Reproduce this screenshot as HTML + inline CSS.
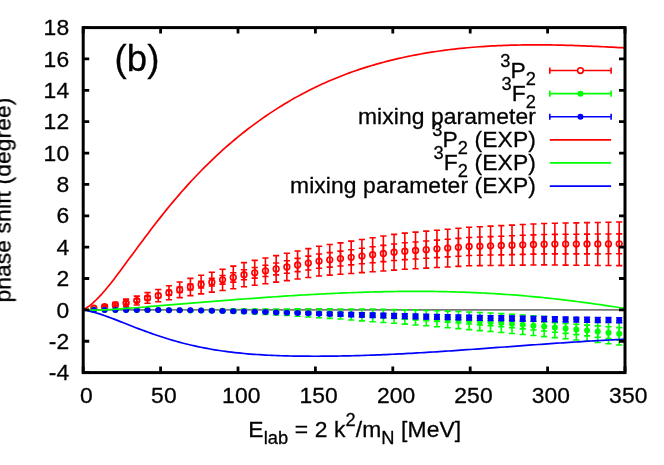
<!DOCTYPE html>
<html lang="en">
<head>
<meta charset="utf-8">
<title>Phase shifts (b)</title>
<style>
html,body{margin:0;padding:0;background:#fff;}
body{width:664px;height:465px;overflow:hidden;font-family:"Liberation Sans", sans-serif;}
svg{display:block;}
</style>
</head>
<body>
<svg width="664" height="465" viewBox="0 0 664 465">
<rect width="664" height="465" fill="#fff"/>
<path d="M83.2,309.87H625.0" stroke="#787878" stroke-width="1.8" fill="none"/>
<g>
<path d="M93.92,307.13V309.01M90.82,307.13H97.02M90.82,309.01H97.02M104.64,305.17V308.30M101.54,305.17H107.74M101.54,308.30H107.74M115.36,302.35V307.36M112.26,302.35H118.46M112.26,307.36H118.46M126.08,299.13V306.66M122.98,299.13H129.18M122.98,306.66H129.18M136.80,296.15V304.93M133.70,296.15H139.90M133.70,304.93H139.90M147.52,292.62V303.29M144.42,292.62H150.62M144.42,303.29H150.62M158.24,289.45V301.76M155.14,289.45H161.34M155.14,301.76H161.34M168.96,285.75V299.71M165.86,285.75H172.06M165.86,299.71H172.06M179.68,282.05V297.65M176.58,282.05H182.78M176.58,297.65H182.78M190.40,278.35V295.60M187.30,278.35H193.50M187.30,295.60H193.50M201.12,275.29V293.88M198.02,275.29H204.22M198.02,293.88H204.22M211.84,272.24V292.15M208.74,272.24H214.94M208.74,292.15H214.94M222.56,269.18V290.43M219.46,269.18H225.66M219.46,290.43H225.66M233.28,266.12V288.70M230.18,266.12H236.38M230.18,288.70H236.38M244.00,262.67V286.82M240.90,262.67H247.10M240.90,286.82H247.10M254.72,260.33V285.27M251.62,260.33H257.82M251.62,285.27H257.82M265.44,257.99V283.71M262.34,257.99H268.54M262.34,283.71H268.54M276.16,255.65V282.16M273.06,255.65H279.26M273.06,282.16H279.26M286.88,253.31V280.60M283.78,253.31H289.98M283.78,280.60H289.98M297.60,250.97V279.04M294.50,250.97H300.70M294.50,279.04H300.70M308.32,248.64V277.49M305.22,248.64H311.42M305.22,277.49H311.42M319.04,246.24V275.96M315.94,246.24H322.14M315.94,275.96H322.14M329.76,244.55V275.13M326.66,244.55H332.86M326.66,275.13H332.86M340.48,242.85V274.29M337.38,242.85H343.58M337.38,274.29H343.58M351.20,241.15V273.46M348.10,241.15H354.30M348.10,273.46H354.30M361.92,239.46V272.62M358.82,239.46H365.02M358.82,272.62H365.02M372.64,237.76V271.79M369.54,237.76H375.74M369.54,271.79H375.74M383.36,236.06V270.95M380.26,236.06H386.46M380.26,270.95H386.46M394.08,234.36V270.12M390.98,234.36H397.18M390.98,270.12H397.18M404.80,233.14V269.30M401.70,233.14H407.90M401.70,269.30H407.90M415.52,232.16V268.72M412.42,232.16H418.62M412.42,268.72H418.62M426.24,231.17V268.14M423.14,231.17H429.34M423.14,268.14H429.34M436.96,230.19V267.55M433.86,230.19H440.06M433.86,267.55H440.06M447.68,229.20V266.97M444.58,229.20H450.78M444.58,266.97H450.78M458.40,228.22V266.39M455.30,228.22H461.50M455.30,266.39H461.50M469.12,227.23V265.81M466.02,227.23H472.22M466.02,265.81H472.22M479.84,226.69V265.67M476.74,226.69H482.94M476.74,265.67H482.94M490.56,226.15V265.54M487.46,226.15H493.66M487.46,265.54H493.66M501.28,225.62V265.40M498.18,225.62H504.38M498.18,265.40H504.38M512.00,225.08V265.27M508.90,225.08H515.10M508.90,265.27H515.10M522.72,224.54V265.13M519.62,224.54H525.82M519.62,265.13H525.82M533.44,224.00V265.00M530.34,224.00H536.54M530.34,265.00H536.54M544.16,223.47V264.87M541.06,223.47H547.26M541.06,264.87H547.26M554.88,223.26V264.98M551.78,223.26H557.98M551.78,264.98H557.98M565.60,223.06V265.09M562.50,223.06H568.70M562.50,265.09H568.70M576.32,222.86V265.20M573.22,222.86H579.42M573.22,265.20H579.42M587.04,222.66V265.31M583.94,222.66H590.14M583.94,265.31H590.14M597.76,222.46V265.43M594.66,222.46H600.86M594.66,265.43H600.86M608.48,222.26V265.54M605.38,222.26H611.58M605.38,265.54H611.58M619.20,222.05V265.65M616.10,222.05H622.30M616.10,265.65H622.30" stroke="#ff0000" stroke-width="1.6" fill="none"/>
<path d="M93.92,307.77V308.37M90.82,307.77H97.02M90.82,308.37H97.02M104.64,306.14V307.33M101.54,306.14H107.74M101.54,307.33H107.74M115.36,303.96V305.75M112.26,303.96H118.46M112.26,305.75H118.46M126.08,301.70V304.09M122.98,301.70H129.18M122.98,304.09H129.18M136.80,299.05V302.03M133.70,299.05H139.90M133.70,302.03H139.90M147.52,296.17V299.74M144.42,296.17H150.62M144.42,299.74H150.62M158.24,293.52V297.69M155.14,293.52H161.34M155.14,297.69H161.34M168.96,290.34V295.11M165.86,290.34H172.06M165.86,295.11H172.06M179.68,287.17V292.53M176.58,287.17H182.78M176.58,292.53H182.78M190.40,284.00V289.96M187.30,284.00H193.50M187.30,289.96H193.50M201.12,281.18V288.00M198.02,281.18H204.22M198.02,288.00H204.22M211.84,278.35V286.04M208.74,278.35H214.94M208.74,286.04H214.94M222.56,275.53V284.08M219.46,275.53H225.66M219.46,284.08H225.66M233.28,272.71V282.12M230.18,272.71H236.38M230.18,282.12H236.38M244.00,269.73V279.76M240.90,269.73H247.10M240.90,279.76H247.10M254.72,267.47V278.13M251.62,267.47H257.82M251.62,278.13H257.82M265.44,265.21V276.50M262.34,265.21H268.54M262.34,276.50H268.54M276.16,262.94V274.86M273.06,262.94H279.26M273.06,274.86H279.26M286.88,260.68V273.23M283.78,260.68H289.98M283.78,273.23H289.98M297.60,258.42V271.60M294.50,258.42H300.70M294.50,271.60H300.70M308.32,256.16V269.96M305.22,256.16H311.42M305.22,269.96H311.42M319.04,254.03V268.18M315.94,254.03H322.14M315.94,268.18H322.14M329.76,252.58V267.09M326.66,252.58H332.86M326.66,267.09H332.86M340.48,251.14V266.00M337.38,251.14H343.58M337.38,266.00H343.58M351.20,249.70V264.91M348.10,249.70H354.30M348.10,264.91H354.30M361.92,248.26V263.82M358.82,248.26H365.02M358.82,263.82H365.02M372.64,246.82V262.73M369.54,246.82H375.74M369.54,262.73H375.74M383.36,245.37V261.64M380.26,245.37H386.46M380.26,261.64H386.46M394.08,243.93V260.55M390.98,243.93H397.18M390.98,260.55H397.18M404.80,242.81V259.63M401.70,242.81H407.90M401.70,259.63H407.90M415.52,241.93V258.95M412.42,241.93H418.62M412.42,258.95H418.62M426.24,241.04V258.27M423.14,241.04H429.34M423.14,258.27H429.34M436.96,240.16V257.59M433.86,240.16H440.06M433.86,257.59H440.06M447.68,239.27V256.90M444.58,239.27H450.78M444.58,256.90H450.78M458.40,238.39V256.22M455.30,238.39H461.50M455.30,256.22H461.50M469.12,237.50V255.54M466.02,237.50H472.22M466.02,255.54H472.22M479.84,237.06V255.30M476.74,237.06H482.94M476.74,255.30H482.94M490.56,236.63V255.06M487.46,236.63H493.66M487.46,255.06H493.66M501.28,236.19V254.83M498.18,236.19H504.38M498.18,254.83H504.38M512.00,235.75V254.59M508.90,235.75H515.10M508.90,254.59H515.10M522.72,235.32V254.36M519.62,235.32H525.82M519.62,254.36H525.82M533.44,234.88V254.12M530.34,234.88H536.54M530.34,254.12H536.54M544.16,234.44V253.89M541.06,234.44H547.26M541.06,253.89H547.26M554.88,234.36V253.88M551.78,234.36H557.98M551.78,253.88H557.98M565.60,234.29V253.87M562.50,234.29H568.70M562.50,253.87H568.70M576.32,234.21V253.86M573.22,234.21H579.42M573.22,253.86H579.42M587.04,234.13V253.84M583.94,234.13H590.14M583.94,253.84H590.14M597.76,234.05V253.83M594.66,234.05H600.86M594.66,253.83H600.86M608.48,233.97V253.82M605.38,233.97H611.58M605.38,253.82H611.58M619.20,233.89V253.81M616.10,233.89H622.30M616.10,253.81H622.30" stroke="#ff0000" stroke-width="1.6" fill="none"/>
<circle cx="93.92" cy="308.07" r="2.85" fill="none" stroke="#ff0000" stroke-width="1.6"/><circle cx="104.64" cy="306.74" r="2.85" fill="none" stroke="#ff0000" stroke-width="1.6"/><circle cx="115.36" cy="304.85" r="2.85" fill="none" stroke="#ff0000" stroke-width="1.6"/><circle cx="126.08" cy="302.89" r="2.85" fill="none" stroke="#ff0000" stroke-width="1.6"/><circle cx="136.80" cy="300.54" r="2.85" fill="none" stroke="#ff0000" stroke-width="1.6"/><circle cx="147.52" cy="297.95" r="2.85" fill="none" stroke="#ff0000" stroke-width="1.6"/><circle cx="158.24" cy="295.60" r="2.85" fill="none" stroke="#ff0000" stroke-width="1.6"/><circle cx="168.96" cy="292.73" r="2.85" fill="none" stroke="#ff0000" stroke-width="1.6"/><circle cx="179.68" cy="289.85" r="2.85" fill="none" stroke="#ff0000" stroke-width="1.6"/><circle cx="190.40" cy="286.98" r="2.85" fill="none" stroke="#ff0000" stroke-width="1.6"/><circle cx="201.12" cy="284.59" r="2.85" fill="none" stroke="#ff0000" stroke-width="1.6"/><circle cx="211.84" cy="282.19" r="2.85" fill="none" stroke="#ff0000" stroke-width="1.6"/><circle cx="222.56" cy="279.80" r="2.85" fill="none" stroke="#ff0000" stroke-width="1.6"/><circle cx="233.28" cy="277.41" r="2.85" fill="none" stroke="#ff0000" stroke-width="1.6"/><circle cx="244.00" cy="274.75" r="2.85" fill="none" stroke="#ff0000" stroke-width="1.6"/><circle cx="254.72" cy="272.80" r="2.85" fill="none" stroke="#ff0000" stroke-width="1.6"/><circle cx="265.44" cy="270.85" r="2.85" fill="none" stroke="#ff0000" stroke-width="1.6"/><circle cx="276.16" cy="268.90" r="2.85" fill="none" stroke="#ff0000" stroke-width="1.6"/><circle cx="286.88" cy="266.96" r="2.85" fill="none" stroke="#ff0000" stroke-width="1.6"/><circle cx="297.60" cy="265.01" r="2.85" fill="none" stroke="#ff0000" stroke-width="1.6"/><circle cx="308.32" cy="263.06" r="2.85" fill="none" stroke="#ff0000" stroke-width="1.6"/><circle cx="319.04" cy="261.10" r="2.85" fill="none" stroke="#ff0000" stroke-width="1.6"/><circle cx="329.76" cy="259.84" r="2.85" fill="none" stroke="#ff0000" stroke-width="1.6"/><circle cx="340.48" cy="258.57" r="2.85" fill="none" stroke="#ff0000" stroke-width="1.6"/><circle cx="351.20" cy="257.31" r="2.85" fill="none" stroke="#ff0000" stroke-width="1.6"/><circle cx="361.92" cy="256.04" r="2.85" fill="none" stroke="#ff0000" stroke-width="1.6"/><circle cx="372.64" cy="254.77" r="2.85" fill="none" stroke="#ff0000" stroke-width="1.6"/><circle cx="383.36" cy="253.51" r="2.85" fill="none" stroke="#ff0000" stroke-width="1.6"/><circle cx="394.08" cy="252.24" r="2.85" fill="none" stroke="#ff0000" stroke-width="1.6"/><circle cx="404.80" cy="251.22" r="2.85" fill="none" stroke="#ff0000" stroke-width="1.6"/><circle cx="415.52" cy="250.44" r="2.85" fill="none" stroke="#ff0000" stroke-width="1.6"/><circle cx="426.24" cy="249.65" r="2.85" fill="none" stroke="#ff0000" stroke-width="1.6"/><circle cx="436.96" cy="248.87" r="2.85" fill="none" stroke="#ff0000" stroke-width="1.6"/><circle cx="447.68" cy="248.09" r="2.85" fill="none" stroke="#ff0000" stroke-width="1.6"/><circle cx="458.40" cy="247.30" r="2.85" fill="none" stroke="#ff0000" stroke-width="1.6"/><circle cx="469.12" cy="246.52" r="2.85" fill="none" stroke="#ff0000" stroke-width="1.6"/><circle cx="479.84" cy="246.18" r="2.85" fill="none" stroke="#ff0000" stroke-width="1.6"/><circle cx="490.56" cy="245.85" r="2.85" fill="none" stroke="#ff0000" stroke-width="1.6"/><circle cx="501.28" cy="245.51" r="2.85" fill="none" stroke="#ff0000" stroke-width="1.6"/><circle cx="512.00" cy="245.17" r="2.85" fill="none" stroke="#ff0000" stroke-width="1.6"/><circle cx="522.72" cy="244.84" r="2.85" fill="none" stroke="#ff0000" stroke-width="1.6"/><circle cx="533.44" cy="244.50" r="2.85" fill="none" stroke="#ff0000" stroke-width="1.6"/><circle cx="544.16" cy="244.17" r="2.85" fill="none" stroke="#ff0000" stroke-width="1.6"/><circle cx="554.88" cy="244.12" r="2.85" fill="none" stroke="#ff0000" stroke-width="1.6"/><circle cx="565.60" cy="244.08" r="2.85" fill="none" stroke="#ff0000" stroke-width="1.6"/><circle cx="576.32" cy="244.03" r="2.85" fill="none" stroke="#ff0000" stroke-width="1.6"/><circle cx="587.04" cy="243.99" r="2.85" fill="none" stroke="#ff0000" stroke-width="1.6"/><circle cx="597.76" cy="243.94" r="2.85" fill="none" stroke="#ff0000" stroke-width="1.6"/><circle cx="608.48" cy="243.90" r="2.85" fill="none" stroke="#ff0000" stroke-width="1.6"/><circle cx="619.20" cy="243.85" r="2.85" fill="none" stroke="#ff0000" stroke-width="1.6"/>
</g><g>
<path d="M93.92,309.81V309.94M90.82,309.81H97.02M90.82,309.94H97.02M104.64,309.76V310.01M101.54,309.76H107.74M101.54,310.01H107.74M115.36,309.71V310.09M112.26,309.71H118.46M112.26,310.09H118.46M126.08,309.68V310.18M122.98,309.68H129.18M122.98,310.18H129.18M136.80,309.66V310.28M133.70,309.66H139.90M133.70,310.28H139.90M147.52,309.65V310.40M144.42,309.65H150.62M144.42,310.40H150.62M158.24,309.65V310.53M155.14,309.65H161.34M155.14,310.53H161.34M168.96,309.67V310.68M165.86,309.67H172.06M165.86,310.68H172.06M179.68,309.71V310.84M176.58,309.71H182.78M176.58,310.84H182.78M190.40,309.76V311.01M187.30,309.76H193.50M187.30,311.01H193.50M201.12,309.58V311.46M198.02,309.58H204.22M198.02,311.46H204.22M211.84,309.41V311.92M208.74,309.41H214.94M208.74,311.92H214.94M222.56,309.27V312.40M219.46,309.27H225.66M219.46,312.40H225.66M233.28,309.14V312.90M230.18,309.14H236.38M230.18,312.90H236.38M244.00,309.06V313.39M240.90,309.06H247.10M240.90,313.39H247.10M254.72,309.00V313.90M251.62,309.00H257.82M251.62,313.90H257.82M265.44,308.97V314.42M262.34,308.97H268.54M262.34,314.42H268.54M276.16,308.95V314.97M273.06,308.95H279.26M273.06,314.97H279.26M286.88,308.96V315.54M283.78,308.96H289.98M283.78,315.54H289.98M297.60,308.85V316.27M294.50,308.85H300.70M294.50,316.27H300.70M308.32,308.76V317.02M305.22,308.76H311.42M305.22,317.02H311.42M319.04,308.70V317.79M315.94,308.70H322.14M315.94,317.79H322.14M329.76,308.84V318.40M326.66,308.84H332.86M326.66,318.40H332.86M340.48,309.00V319.04M337.38,309.00H343.58M337.38,319.04H343.58M351.20,308.96V319.93M348.10,308.96H354.30M348.10,319.93H354.30M361.92,308.93V320.85M358.82,308.93H365.02M358.82,320.85H365.02M372.64,308.94V321.80M369.54,308.94H375.74M369.54,321.80H375.74M383.36,309.18V322.54M380.26,309.18H386.46M380.26,322.54H386.46M394.08,309.46V323.32M390.98,309.46H397.18M390.98,323.32H397.18M404.80,309.75V324.12M401.70,309.75H407.90M401.70,324.12H407.90M415.52,310.08V324.94M412.42,310.08H418.62M412.42,324.94H418.62M426.24,310.43V325.80M423.14,310.43H429.34M423.14,325.80H429.34M436.96,310.74V326.74M433.86,310.74H440.06M433.86,326.74H440.06M447.68,311.08V327.70M444.58,311.08H450.78M444.58,327.70H450.78M458.40,311.50V328.65M455.30,311.50H461.50M455.30,328.65H461.50M469.12,311.95V329.62M466.02,311.95H472.22M466.02,329.62H472.22M479.84,312.43V330.62M476.74,312.43H482.94M476.74,330.62H482.94M490.56,313.03V331.54M487.46,313.03H493.66M487.46,331.54H493.66M501.28,313.67V332.49M498.18,313.67H504.38M498.18,332.49H504.38M512.00,314.33V333.47M508.90,314.33H515.10M508.90,333.47H515.10M522.72,315.03V334.47M519.62,315.03H525.82M519.62,334.47H525.82M533.44,315.75V335.51M530.34,315.75H536.54M530.34,335.51H536.54M544.16,316.51V336.58M541.06,316.51H547.26M541.06,336.58H547.26M554.88,317.29V337.67M551.78,317.29H557.98M551.78,337.67H557.98M565.60,318.10V338.80M562.50,318.10H568.70M562.50,338.80H568.70M576.32,318.91V339.99M573.22,318.91H579.42M573.22,339.99H579.42M587.04,319.75V341.21M583.94,319.75H590.14M583.94,341.21H590.14M597.76,320.63V342.46M594.66,320.63H600.86M594.66,342.46H600.86M608.48,321.53V343.74M605.38,321.53H611.58M605.38,343.74H611.58M619.20,322.47V345.05M616.10,322.47H622.30M616.10,345.05H622.30" stroke="#00ff00" stroke-width="1.6" fill="none"/>
<path d="M93.92,309.87V309.88M90.82,309.87H97.02M90.82,309.88H97.02M104.64,309.87V309.89M101.54,309.87H107.74M101.54,309.89H107.74M115.36,309.88V309.92M112.26,309.88H118.46M112.26,309.92H118.46M126.08,309.89V309.97M122.98,309.89H129.18M122.98,309.97H129.18M136.80,309.91V310.03M133.70,309.91H139.90M133.70,310.03H139.90M147.52,309.94V310.11M144.42,309.94H150.62M144.42,310.11H150.62M158.24,309.97V310.21M155.14,309.97H161.34M155.14,310.21H161.34M168.96,310.02V310.33M165.86,310.02H172.06M165.86,310.33H172.06M179.68,310.07V310.47M176.58,310.07H182.78M176.58,310.47H182.78M190.40,310.14V310.63M187.30,310.14H193.50M187.30,310.63H193.50M201.12,310.22V310.81M198.02,310.22H204.22M198.02,310.81H204.22M211.84,310.31V311.02M208.74,310.31H214.94M208.74,311.02H214.94M222.56,310.42V311.25M219.46,310.42H225.66M219.46,311.25H225.66M233.28,310.54V311.50M230.18,310.54H236.38M230.18,311.50H236.38M244.00,310.67V311.78M240.90,310.67H247.10M240.90,311.78H247.10M254.72,310.82V312.08M251.62,310.82H257.82M251.62,312.08H257.82M265.44,310.99V312.40M262.34,310.99H268.54M262.34,312.40H268.54M276.16,311.17V312.75M273.06,311.17H279.26M273.06,312.75H279.26M286.88,311.37V313.13M283.78,311.37H289.98M283.78,313.13H289.98M297.60,311.58V313.54M294.50,311.58H300.70M294.50,313.54H300.70M308.32,311.81V313.97M305.22,311.81H311.42M305.22,313.97H311.42M319.04,312.06V314.43M315.94,312.06H322.14M315.94,314.43H322.14M329.76,312.33V314.91M326.66,312.33H332.86M326.66,314.91H332.86M340.48,312.61V315.43M337.38,312.61H343.58M337.38,315.43H343.58M351.20,312.92V315.97M348.10,312.92H354.30M348.10,315.97H354.30M361.92,313.24V316.55M358.82,313.24H365.02M358.82,316.55H365.02M372.64,313.58V317.15M369.54,313.58H375.74M369.54,317.15H375.74M383.36,313.95V317.78M380.26,313.95H386.46M380.26,317.78H386.46M394.08,314.33V318.44M390.98,314.33H397.18M390.98,318.44H397.18M404.80,314.73V319.14M401.70,314.73H407.90M401.70,319.14H407.90M415.52,315.16V319.86M412.42,315.16H418.62M412.42,319.86H418.62M426.24,315.61V320.62M423.14,315.61H429.34M423.14,320.62H429.34M436.96,316.07V321.40M433.86,316.07H440.06M433.86,321.40H440.06M447.68,316.57V322.22M444.58,316.57H450.78M444.58,322.22H450.78M458.40,317.08V323.07M455.30,317.08H461.50M455.30,323.07H461.50M469.12,317.61V323.95M466.02,317.61H472.22M466.02,323.95H472.22M479.84,318.17V324.87M476.74,318.17H482.94M476.74,324.87H482.94M490.56,318.75V325.82M487.46,318.75H493.66M487.46,325.82H493.66M501.28,319.36V326.80M498.18,319.36H504.38M498.18,326.80H504.38M512.00,319.99V327.81M508.90,319.99H515.10M508.90,327.81H515.10M522.72,320.64V328.86M519.62,320.64H525.82M519.62,328.86H525.82M533.44,321.32V329.95M530.34,321.32H536.54M530.34,329.95H536.54M544.16,322.02V331.06M541.06,322.02H547.26M541.06,331.06H547.26M554.88,322.74V332.22M551.78,322.74H557.98M551.78,332.22H557.98M565.60,323.50V333.40M562.50,323.50H568.70M562.50,333.40H568.70M576.32,324.27V334.63M573.22,324.27H579.42M573.22,334.63H579.42M587.04,325.08V335.88M583.94,325.08H590.14M583.94,335.88H590.14M597.76,325.91V337.18M594.66,325.91H600.86M594.66,337.18H600.86M608.48,326.76V338.51M605.38,326.76H611.58M605.38,338.51H611.58M619.20,327.64V339.87M616.10,327.64H622.30M616.10,339.87H622.30" stroke="#00ff00" stroke-width="1.6" fill="none"/>
<circle cx="93.92" cy="309.87" r="3.0" fill="#00ff00"/><circle cx="104.64" cy="309.88" r="3.0" fill="#00ff00"/><circle cx="115.36" cy="309.90" r="3.0" fill="#00ff00"/><circle cx="126.08" cy="309.93" r="3.0" fill="#00ff00"/><circle cx="136.80" cy="309.97" r="3.0" fill="#00ff00"/><circle cx="147.52" cy="310.02" r="3.0" fill="#00ff00"/><circle cx="158.24" cy="310.09" r="3.0" fill="#00ff00"/><circle cx="168.96" cy="310.17" r="3.0" fill="#00ff00"/><circle cx="179.68" cy="310.27" r="3.0" fill="#00ff00"/><circle cx="190.40" cy="310.39" r="3.0" fill="#00ff00"/><circle cx="201.12" cy="310.52" r="3.0" fill="#00ff00"/><circle cx="211.84" cy="310.67" r="3.0" fill="#00ff00"/><circle cx="222.56" cy="310.83" r="3.0" fill="#00ff00"/><circle cx="233.28" cy="311.02" r="3.0" fill="#00ff00"/><circle cx="244.00" cy="311.22" r="3.0" fill="#00ff00"/><circle cx="254.72" cy="311.45" r="3.0" fill="#00ff00"/><circle cx="265.44" cy="311.70" r="3.0" fill="#00ff00"/><circle cx="276.16" cy="311.96" r="3.0" fill="#00ff00"/><circle cx="286.88" cy="312.25" r="3.0" fill="#00ff00"/><circle cx="297.60" cy="312.56" r="3.0" fill="#00ff00"/><circle cx="308.32" cy="312.89" r="3.0" fill="#00ff00"/><circle cx="319.04" cy="313.24" r="3.0" fill="#00ff00"/><circle cx="329.76" cy="313.62" r="3.0" fill="#00ff00"/><circle cx="340.48" cy="314.02" r="3.0" fill="#00ff00"/><circle cx="351.20" cy="314.45" r="3.0" fill="#00ff00"/><circle cx="361.92" cy="314.89" r="3.0" fill="#00ff00"/><circle cx="372.64" cy="315.37" r="3.0" fill="#00ff00"/><circle cx="383.36" cy="315.86" r="3.0" fill="#00ff00"/><circle cx="394.08" cy="316.39" r="3.0" fill="#00ff00"/><circle cx="404.80" cy="316.94" r="3.0" fill="#00ff00"/><circle cx="415.52" cy="317.51" r="3.0" fill="#00ff00"/><circle cx="426.24" cy="318.11" r="3.0" fill="#00ff00"/><circle cx="436.96" cy="318.74" r="3.0" fill="#00ff00"/><circle cx="447.68" cy="319.39" r="3.0" fill="#00ff00"/><circle cx="458.40" cy="320.07" r="3.0" fill="#00ff00"/><circle cx="469.12" cy="320.78" r="3.0" fill="#00ff00"/><circle cx="479.84" cy="321.52" r="3.0" fill="#00ff00"/><circle cx="490.56" cy="322.29" r="3.0" fill="#00ff00"/><circle cx="501.28" cy="323.08" r="3.0" fill="#00ff00"/><circle cx="512.00" cy="323.90" r="3.0" fill="#00ff00"/><circle cx="522.72" cy="324.75" r="3.0" fill="#00ff00"/><circle cx="533.44" cy="325.63" r="3.0" fill="#00ff00"/><circle cx="544.16" cy="326.54" r="3.0" fill="#00ff00"/><circle cx="554.88" cy="327.48" r="3.0" fill="#00ff00"/><circle cx="565.60" cy="328.45" r="3.0" fill="#00ff00"/><circle cx="576.32" cy="329.45" r="3.0" fill="#00ff00"/><circle cx="587.04" cy="330.48" r="3.0" fill="#00ff00"/><circle cx="597.76" cy="331.54" r="3.0" fill="#00ff00"/><circle cx="608.48" cy="332.63" r="3.0" fill="#00ff00"/><circle cx="619.20" cy="333.76" r="3.0" fill="#00ff00"/>
</g><g>
<path d="M93.92,309.89V309.89M90.82,309.89H97.02M90.82,309.89H97.02M104.64,309.90V309.90M101.54,309.90H107.74M101.54,309.90H107.74M115.36,309.92V309.92M112.26,309.92H118.46M112.26,309.92H118.46M126.08,309.94V309.94M122.98,309.94H129.18M122.98,309.94H129.18M136.80,309.95V309.95M133.70,309.95H139.90M133.70,309.95H139.90M147.52,310.03V310.03M144.42,310.03H150.62M144.42,310.03H150.62M158.24,310.11V310.11M155.14,310.11H161.34M155.14,310.11H161.34M168.96,310.19V310.19M165.86,310.19H172.06M165.86,310.19H172.06M179.68,310.26V310.26M176.58,310.26H182.78M176.58,310.26H182.78M190.40,310.34V310.34M187.30,310.34H193.50M187.30,310.34H193.50M201.12,310.50V310.63M198.02,310.50H204.22M198.02,310.63H204.22M211.84,310.66V310.91M208.74,310.66H214.94M208.74,310.91H214.94M222.56,310.81V311.19M219.46,310.81H225.66M219.46,311.19H225.66M233.28,310.97V311.47M230.18,310.97H236.38M230.18,311.47H236.38M244.00,311.13V311.75M240.90,311.13H247.10M240.90,311.75H247.10M254.72,311.35V312.16M251.62,311.35H257.82M251.62,312.16H257.82M265.44,311.57V312.57M262.34,311.57H268.54M262.34,312.57H268.54M276.16,311.79V312.98M273.06,311.79H279.26M273.06,312.98H279.26M286.88,312.01V313.39M283.78,312.01H289.98M283.78,313.39H289.98M297.60,312.23V313.79M294.50,312.23H300.70M294.50,313.79H300.70M308.32,312.30V314.34M305.22,312.30H311.42M305.22,314.34H311.42M319.04,312.38V314.89M315.94,312.38H322.14M315.94,314.89H322.14M329.76,312.30V315.60M326.66,312.30H332.86M326.66,315.60H332.86M340.48,312.23V316.30M337.38,312.23H343.58M337.38,316.30H343.58M351.20,312.49V316.67M348.10,312.49H354.30M348.10,316.67H354.30M361.92,312.75V317.03M358.82,312.75H365.02M358.82,317.03H365.02M372.64,313.01V317.40M369.54,313.01H375.74M369.54,317.40H375.74M383.36,313.27V317.77M380.26,313.27H386.46M380.26,317.77H386.46M394.08,313.53V318.13M390.98,313.53H397.18M390.98,318.13H397.18M404.80,313.79V318.50M401.70,313.79H407.90M401.70,318.50H407.90M415.52,314.04V318.75M412.42,314.04H418.62M412.42,318.75H418.62M426.24,314.29V319.01M423.14,314.29H429.34M423.14,319.01H429.34M436.96,314.53V319.26M433.86,314.53H440.06M433.86,319.26H440.06M447.68,314.78V319.52M444.58,314.78H450.78M444.58,319.52H450.78M458.40,315.03V319.77M455.30,315.03H461.50M455.30,319.77H461.50M469.12,315.24V320.00M466.02,315.24H472.22M466.02,320.00H472.22M479.84,315.46V320.22M476.74,315.46H482.94M476.74,320.22H482.94M490.56,315.68V320.44M487.46,315.68H493.66M487.46,320.44H493.66M501.28,315.89V320.67M498.18,315.89H504.38M498.18,320.67H504.38M512.00,316.11V320.89M508.90,316.11H515.10M508.90,320.89H515.10M522.72,316.29V321.08M519.62,316.29H525.82M519.62,321.08H525.82M533.44,316.47V321.27M530.34,316.47H536.54M530.34,321.27H536.54M544.16,316.66V321.47M541.06,316.66H547.26M541.06,321.47H547.26M554.88,316.84V321.66M551.78,316.84H557.98M551.78,321.66H557.98M565.60,317.03V321.85M562.50,317.03H568.70M562.50,321.85H568.70M576.32,317.18V322.01M573.22,317.18H579.42M573.22,322.01H579.42M587.04,317.33V322.17M583.94,317.33H590.14M583.94,322.17H590.14M597.76,317.49V322.33M594.66,317.49H600.86M594.66,322.33H600.86M608.48,317.64V322.49M605.38,317.64H611.58M605.38,322.49H611.58M619.20,317.79V322.65M616.10,317.79H622.30M616.10,322.65H622.30" stroke="#0000ff" stroke-width="1.6" fill="none"/>
<circle cx="93.92" cy="309.89" r="3.0" fill="#0000ff"/><circle cx="104.64" cy="309.90" r="3.0" fill="#0000ff"/><circle cx="115.36" cy="309.92" r="3.0" fill="#0000ff"/><circle cx="126.08" cy="309.94" r="3.0" fill="#0000ff"/><circle cx="136.80" cy="309.95" r="3.0" fill="#0000ff"/><circle cx="147.52" cy="310.03" r="3.0" fill="#0000ff"/><circle cx="158.24" cy="310.11" r="3.0" fill="#0000ff"/><circle cx="168.96" cy="310.19" r="3.0" fill="#0000ff"/><circle cx="179.68" cy="310.26" r="3.0" fill="#0000ff"/><circle cx="190.40" cy="310.34" r="3.0" fill="#0000ff"/><circle cx="201.12" cy="310.56" r="3.0" fill="#0000ff"/><circle cx="211.84" cy="310.78" r="3.0" fill="#0000ff"/><circle cx="222.56" cy="311.00" r="3.0" fill="#0000ff"/><circle cx="233.28" cy="311.22" r="3.0" fill="#0000ff"/><circle cx="244.00" cy="311.44" r="3.0" fill="#0000ff"/><circle cx="254.72" cy="311.75" r="3.0" fill="#0000ff"/><circle cx="265.44" cy="312.07" r="3.0" fill="#0000ff"/><circle cx="276.16" cy="312.38" r="3.0" fill="#0000ff"/><circle cx="286.88" cy="312.70" r="3.0" fill="#0000ff"/><circle cx="297.60" cy="313.01" r="3.0" fill="#0000ff"/><circle cx="308.32" cy="313.32" r="3.0" fill="#0000ff"/><circle cx="319.04" cy="313.64" r="3.0" fill="#0000ff"/><circle cx="329.76" cy="313.95" r="3.0" fill="#0000ff"/><circle cx="340.48" cy="314.26" r="3.0" fill="#0000ff"/><circle cx="351.20" cy="314.58" r="3.0" fill="#0000ff"/><circle cx="361.92" cy="314.89" r="3.0" fill="#0000ff"/><circle cx="372.64" cy="315.20" r="3.0" fill="#0000ff"/><circle cx="383.36" cy="315.52" r="3.0" fill="#0000ff"/><circle cx="394.08" cy="315.83" r="3.0" fill="#0000ff"/><circle cx="404.80" cy="316.15" r="3.0" fill="#0000ff"/><circle cx="415.52" cy="316.40" r="3.0" fill="#0000ff"/><circle cx="426.24" cy="316.65" r="3.0" fill="#0000ff"/><circle cx="436.96" cy="316.90" r="3.0" fill="#0000ff"/><circle cx="447.68" cy="317.15" r="3.0" fill="#0000ff"/><circle cx="458.40" cy="317.40" r="3.0" fill="#0000ff"/><circle cx="469.12" cy="317.62" r="3.0" fill="#0000ff"/><circle cx="479.84" cy="317.84" r="3.0" fill="#0000ff"/><circle cx="490.56" cy="318.06" r="3.0" fill="#0000ff"/><circle cx="501.28" cy="318.28" r="3.0" fill="#0000ff"/><circle cx="512.00" cy="318.50" r="3.0" fill="#0000ff"/><circle cx="522.72" cy="318.69" r="3.0" fill="#0000ff"/><circle cx="533.44" cy="318.87" r="3.0" fill="#0000ff"/><circle cx="544.16" cy="319.06" r="3.0" fill="#0000ff"/><circle cx="554.88" cy="319.25" r="3.0" fill="#0000ff"/><circle cx="565.60" cy="319.44" r="3.0" fill="#0000ff"/><circle cx="576.32" cy="319.60" r="3.0" fill="#0000ff"/><circle cx="587.04" cy="319.75" r="3.0" fill="#0000ff"/><circle cx="597.76" cy="319.91" r="3.0" fill="#0000ff"/><circle cx="608.48" cy="320.07" r="3.0" fill="#0000ff"/><circle cx="619.20" cy="320.22" r="3.0" fill="#0000ff"/>
</g>
<path d="M83.20,309.87 L86.30,308.03 L89.39,305.83 L92.49,303.30 L95.58,300.48 L98.68,297.39 L101.78,294.06 L104.87,290.52 L107.97,286.80 L111.06,282.93 L114.16,278.93 L117.26,274.84 L120.35,270.69 L123.45,266.50 L126.54,262.31 L129.64,258.11 L132.74,253.92 L135.83,249.73 L138.93,245.56 L142.02,241.41 L145.12,237.28 L148.22,233.17 L151.31,229.10 L154.41,225.06 L157.50,221.07 L160.60,217.11 L163.70,213.21 L166.79,209.37 L169.89,205.58 L172.98,201.85 L176.08,198.19 L179.18,194.58 L182.27,191.04 L185.37,187.56 L188.46,184.14 L191.56,180.77 L194.66,177.47 L197.75,174.22 L200.85,171.03 L203.94,167.89 L207.04,164.81 L210.14,161.79 L213.23,158.81 L216.33,155.90 L219.42,153.03 L222.52,150.22 L225.62,147.46 L228.71,144.75 L231.81,142.10 L234.90,139.49 L238.00,136.93 L241.10,134.42 L244.19,131.96 L247.29,129.54 L250.38,127.17 L253.48,124.85 L256.58,122.57 L259.67,120.34 L262.77,118.15 L265.86,116.01 L268.96,113.91 L272.06,111.85 L275.15,109.84 L278.25,107.86 L281.34,105.93 L284.44,104.04 L287.54,102.19 L290.63,100.38 L293.73,98.60 L296.82,96.87 L299.92,95.18 L303.02,93.52 L306.11,91.90 L309.21,90.32 L312.30,88.77 L315.40,87.26 L318.50,85.79 L321.59,84.35 L324.69,82.95 L327.78,81.58 L330.88,80.24 L333.98,78.94 L337.07,77.67 L340.17,76.43 L343.26,75.23 L346.36,74.05 L349.46,72.91 L352.55,71.79 L355.65,70.71 L358.74,69.65 L361.84,68.63 L364.94,67.63 L368.03,66.66 L371.13,65.72 L374.22,64.81 L377.32,63.92 L380.42,63.06 L383.51,62.22 L386.61,61.41 L389.70,60.62 L392.80,59.86 L395.90,59.12 L398.99,58.40 L402.09,57.71 L405.18,57.04 L408.28,56.39 L411.38,55.76 L414.47,55.16 L417.57,54.57 L420.66,54.00 L423.76,53.46 L426.86,52.93 L429.95,52.43 L433.05,51.94 L436.14,51.47 L439.24,51.02 L442.34,50.59 L445.43,50.18 L448.53,49.78 L451.62,49.40 L454.72,49.04 L457.82,48.70 L460.91,48.37 L464.01,48.06 L467.10,47.77 L470.20,47.49 L473.30,47.23 L476.39,46.98 L479.49,46.75 L482.58,46.53 L485.68,46.33 L488.78,46.14 L491.87,45.97 L494.97,45.81 L498.06,45.66 L501.16,45.53 L504.26,45.40 L507.35,45.30 L510.45,45.20 L513.54,45.12 L516.64,45.05 L519.74,44.99 L522.83,44.94 L525.93,44.90 L529.02,44.87 L532.12,44.86 L535.22,44.85 L538.31,44.85 L541.41,44.87 L544.50,44.89 L547.60,44.92 L550.70,44.96 L553.79,45.01 L556.89,45.07 L559.98,45.13 L563.08,45.21 L566.18,45.29 L569.27,45.37 L572.37,45.47 L575.46,45.57 L578.56,45.68 L581.66,45.79 L584.75,45.91 L587.85,46.04 L590.94,46.17 L594.04,46.30 L597.14,46.44 L600.23,46.59 L603.33,46.74 L606.42,46.89 L609.52,47.05 L612.62,47.21 L615.71,47.37 L618.81,47.53 L621.90,47.70 L625.00,47.87" stroke="#ff0000" stroke-width="1.7" fill="none" stroke-linejoin="round"/>
<path d="M83.20,309.87 L86.30,309.97 L89.39,310.03 L92.49,310.05 L95.58,310.04 L98.68,309.99 L101.78,309.91 L104.87,309.80 L107.97,309.66 L111.06,309.51 L114.16,309.33 L117.26,309.13 L120.35,308.92 L123.45,308.70 L126.54,308.46 L129.64,308.22 L132.74,307.98 L135.83,307.73 L138.93,307.48 L142.02,307.23 L145.12,306.98 L148.22,306.72 L151.31,306.47 L154.41,306.22 L157.50,305.96 L160.60,305.71 L163.70,305.45 L166.79,305.20 L169.89,304.94 L172.98,304.69 L176.08,304.43 L179.18,304.18 L182.27,303.92 L185.37,303.67 L188.46,303.41 L191.56,303.16 L194.66,302.91 L197.75,302.65 L200.85,302.40 L203.94,302.15 L207.04,301.90 L210.14,301.65 L213.23,301.40 L216.33,301.15 L219.42,300.91 L222.52,300.66 L225.62,300.42 L228.71,300.18 L231.81,299.94 L234.90,299.70 L238.00,299.46 L241.10,299.22 L244.19,298.99 L247.29,298.76 L250.38,298.53 L253.48,298.30 L256.58,298.07 L259.67,297.85 L262.77,297.63 L265.86,297.41 L268.96,297.19 L272.06,296.98 L275.15,296.77 L278.25,296.56 L281.34,296.36 L284.44,296.15 L287.54,295.95 L290.63,295.76 L293.73,295.57 L296.82,295.38 L299.92,295.19 L303.02,295.01 L306.11,294.83 L309.21,294.65 L312.30,294.48 L315.40,294.31 L318.50,294.14 L321.59,293.98 L324.69,293.83 L327.78,293.67 L330.88,293.53 L333.98,293.38 L337.07,293.24 L340.17,293.11 L343.26,292.97 L346.36,292.85 L349.46,292.73 L352.55,292.61 L355.65,292.50 L358.74,292.39 L361.84,292.29 L364.94,292.19 L368.03,292.10 L371.13,292.01 L374.22,291.93 L377.32,291.85 L380.42,291.78 L383.51,291.71 L386.61,291.65 L389.70,291.60 L392.80,291.55 L395.90,291.51 L398.99,291.47 L402.09,291.44 L405.18,291.41 L408.28,291.39 L411.38,291.38 L414.47,291.38 L417.57,291.38 L420.66,291.38 L423.76,291.39 L426.86,291.41 L429.95,291.44 L433.05,291.47 L436.14,291.51 L439.24,291.56 L442.34,291.61 L445.43,291.68 L448.53,291.74 L451.62,291.82 L454.72,291.90 L457.82,291.99 L460.91,292.09 L464.01,292.19 L467.10,292.31 L470.20,292.43 L473.30,292.56 L476.39,292.69 L479.49,292.84 L482.58,292.99 L485.68,293.15 L488.78,293.32 L491.87,293.49 L494.97,293.68 L498.06,293.87 L501.16,294.07 L504.26,294.28 L507.35,294.50 L510.45,294.73 L513.54,294.97 L516.64,295.21 L519.74,295.46 L522.83,295.72 L525.93,295.99 L529.02,296.27 L532.12,296.55 L535.22,296.85 L538.31,297.15 L541.41,297.45 L544.50,297.77 L547.60,298.09 L550.70,298.42 L553.79,298.76 L556.89,299.11 L559.98,299.46 L563.08,299.82 L566.18,300.19 L569.27,300.56 L572.37,300.95 L575.46,301.33 L578.56,301.73 L581.66,302.13 L584.75,302.54 L587.85,302.96 L590.94,303.38 L594.04,303.81 L597.14,304.25 L600.23,304.69 L603.33,305.14 L606.42,305.60 L609.52,306.06 L612.62,306.53 L615.71,307.00 L618.81,307.48 L621.90,307.97 L625.00,308.46" stroke="#00ff00" stroke-width="1.7" fill="none" stroke-linejoin="round"/>
<path d="M83.20,309.87 L86.30,310.44 L89.39,311.12 L92.49,311.89 L95.58,312.74 L98.68,313.67 L101.78,314.66 L104.87,315.72 L107.97,316.83 L111.06,317.98 L114.16,319.16 L117.26,320.37 L120.35,321.59 L123.45,322.83 L126.54,324.06 L129.64,325.28 L132.74,326.49 L135.83,327.68 L138.93,328.86 L142.02,330.02 L145.12,331.16 L148.22,332.28 L151.31,333.37 L154.41,334.45 L157.50,335.50 L160.60,336.53 L163.70,337.53 L166.79,338.51 L169.89,339.46 L172.98,340.38 L176.08,341.27 L179.18,342.13 L182.27,342.95 L185.37,343.75 L188.46,344.51 L191.56,345.24 L194.66,345.94 L197.75,346.61 L200.85,347.25 L203.94,347.87 L207.04,348.45 L210.14,349.01 L213.23,349.54 L216.33,350.04 L219.42,350.52 L222.52,350.97 L225.62,351.40 L228.71,351.81 L231.81,352.19 L234.90,352.55 L238.00,352.89 L241.10,353.21 L244.19,353.51 L247.29,353.78 L250.38,354.04 L253.48,354.29 L256.58,354.51 L259.67,354.71 L262.77,354.90 L265.86,355.08 L268.96,355.24 L272.06,355.38 L275.15,355.51 L278.25,355.63 L281.34,355.73 L284.44,355.83 L287.54,355.91 L290.63,355.98 L293.73,356.04 L296.82,356.09 L299.92,356.14 L303.02,356.17 L306.11,356.20 L309.21,356.22 L312.30,356.23 L315.40,356.24 L318.50,356.23 L321.59,356.22 L324.69,356.20 L327.78,356.18 L330.88,356.15 L333.98,356.11 L337.07,356.06 L340.17,356.01 L343.26,355.95 L346.36,355.89 L349.46,355.82 L352.55,355.74 L355.65,355.66 L358.74,355.57 L361.84,355.48 L364.94,355.38 L368.03,355.27 L371.13,355.16 L374.22,355.04 L377.32,354.92 L380.42,354.80 L383.51,354.66 L386.61,354.53 L389.70,354.39 L392.80,354.24 L395.90,354.09 L398.99,353.94 L402.09,353.78 L405.18,353.62 L408.28,353.45 L411.38,353.28 L414.47,353.11 L417.57,352.93 L420.66,352.75 L423.76,352.57 L426.86,352.38 L429.95,352.19 L433.05,351.99 L436.14,351.80 L439.24,351.60 L442.34,351.40 L445.43,351.19 L448.53,350.99 L451.62,350.78 L454.72,350.57 L457.82,350.35 L460.91,350.14 L464.01,349.92 L467.10,349.71 L470.20,349.49 L473.30,349.27 L476.39,349.04 L479.49,348.82 L482.58,348.60 L485.68,348.37 L488.78,348.14 L491.87,347.92 L494.97,347.69 L498.06,347.46 L501.16,347.23 L504.26,347.01 L507.35,346.78 L510.45,346.55 L513.54,346.32 L516.64,346.09 L519.74,345.87 L522.83,345.64 L525.93,345.41 L529.02,345.19 L532.12,344.96 L535.22,344.74 L538.31,344.52 L541.41,344.29 L544.50,344.07 L547.60,343.86 L550.70,343.64 L553.79,343.42 L556.89,343.21 L559.98,343.00 L563.08,342.79 L566.18,342.58 L569.27,342.38 L572.37,342.18 L575.46,341.98 L578.56,341.78 L581.66,341.59 L584.75,341.40 L587.85,341.21 L590.94,341.02 L594.04,340.84 L597.14,340.67 L600.23,340.49 L603.33,340.32 L606.42,340.15 L609.52,339.99 L612.62,339.83 L615.71,339.68 L618.81,339.53 L621.90,339.38 L625.00,339.24" stroke="#0000ff" stroke-width="1.7" fill="none" stroke-linejoin="round"/>
<path d="M549.8,70.55H611.1M549.8,67.45V73.65M611.1,67.45V73.65" stroke="#ff0000" stroke-width="1.6" fill="none"/>
<circle cx="580.45" cy="70.55" r="2.85" fill="#fff" stroke="#ff0000" stroke-width="1.6"/>
<path d="M549.8,93.65H611.1M549.8,90.55V96.75M611.1,90.55V96.75" stroke="#00ff00" stroke-width="1.6" fill="none"/>
<circle cx="580.45" cy="93.65" r="3.0" fill="#00ff00"/>
<path d="M549.8,116.75H611.1M549.8,113.65V119.85M611.1,113.65V119.85" stroke="#0000ff" stroke-width="1.6" fill="none"/>
<circle cx="580.45" cy="116.75" r="3.0" fill="#0000ff"/>
<path d="M549.8,139.85H611.1" stroke="#ff0000" stroke-width="1.7" fill="none"/>
<path d="M549.8,162.95H611.1" stroke="#00ff00" stroke-width="1.7" fill="none"/>
<path d="M549.8,186.05H611.1" stroke="#0000ff" stroke-width="1.7" fill="none"/>
<path d="M83.20,372.6v-6.0M83.20,27.6v6.0M160.60,372.6v-6.0M160.60,27.6v6.0M238.00,372.6v-6.0M238.00,27.6v6.0M315.40,372.6v-6.0M315.40,27.6v6.0M392.80,372.6v-6.0M392.80,27.6v6.0M470.20,372.6v-6.0M470.20,27.6v6.0M547.60,372.6v-6.0M547.60,27.6v6.0M625.00,372.6v-6.0M625.00,27.6v6.0M83.2,372.60h6.0M625.0,372.60h-6.0M83.2,341.24h6.0M625.0,341.24h-6.0M83.2,309.87h6.0M625.0,309.87h-6.0M83.2,278.51h6.0M625.0,278.51h-6.0M83.2,247.15h6.0M625.0,247.15h-6.0M83.2,215.78h6.0M625.0,215.78h-6.0M83.2,184.42h6.0M625.0,184.42h-6.0M83.2,153.05h6.0M625.0,153.05h-6.0M83.2,121.69h6.0M625.0,121.69h-6.0M83.2,90.33h6.0M625.0,90.33h-6.0M83.2,58.96h6.0M625.0,58.96h-6.0M83.2,27.60h6.0M625.0,27.60h-6.0" stroke="#000" stroke-width="2.8" fill="none"/>
<rect x="83.2" y="27.6" width="541.8" height="345.0" fill="none" stroke="#000" stroke-width="3"/>
<g opacity="0.999" font-family='"Liberation Sans", sans-serif' font-size="22.85" fill="#000" stroke="#000" stroke-width="0.3" letter-spacing="0.1">
<text x="69.2" y="380.25" text-anchor="end">-4</text>
<text x="69.2" y="348.89" text-anchor="end">-2</text>
<text x="69.2" y="317.52" text-anchor="end">0</text>
<text x="69.2" y="286.16" text-anchor="end">2</text>
<text x="69.2" y="254.80" text-anchor="end">4</text>
<text x="69.2" y="223.43" text-anchor="end">6</text>
<text x="69.2" y="192.07" text-anchor="end">8</text>
<text x="69.2" y="160.70" text-anchor="end">10</text>
<text x="69.2" y="129.34" text-anchor="end">12</text>
<text x="69.2" y="97.98" text-anchor="end">14</text>
<text x="69.2" y="66.61" text-anchor="end">16</text>
<text x="69.2" y="35.25" text-anchor="end">18</text>
<text x="86.50" y="403.3" text-anchor="middle">0</text>
<text x="163.90" y="403.3" text-anchor="middle">50</text>
<text x="241.30" y="403.3" text-anchor="middle">100</text>
<text x="318.70" y="403.3" text-anchor="middle">150</text>
<text x="396.10" y="403.3" text-anchor="middle">200</text>
<text x="473.50" y="403.3" text-anchor="middle">250</text>
<text x="550.90" y="403.3" text-anchor="middle">300</text>
<text x="628.30" y="403.3" text-anchor="middle">350</text>
<text x="536.0" y="77.90" text-anchor="end"><tspan font-size="18.28" dy="-11.4">3</tspan><tspan dy="11.4">P</tspan><tspan font-size="18.28" dy="6.6">2</tspan></text>
<text x="536.0" y="101.00" text-anchor="end"><tspan font-size="18.28" dy="-11.4">3</tspan><tspan dy="11.4">F</tspan><tspan font-size="18.28" dy="6.6">2</tspan></text>
<text x="536.0" y="124.10" text-anchor="end">mixing parameter</text>
<text x="536.0" y="147.20" text-anchor="end"><tspan font-size="18.28" dy="-11.4">3</tspan><tspan dy="11.4">P</tspan><tspan font-size="18.28" dy="6.6">2</tspan><tspan dy="-6.6"> (EXP)</tspan></text>
<text x="536.0" y="170.30" text-anchor="end"><tspan font-size="18.28" dy="-11.4">3</tspan><tspan dy="11.4">F</tspan><tspan font-size="18.28" dy="6.6">2</tspan><tspan dy="-6.6"> (EXP)</tspan></text>
<text x="536.0" y="193.40" text-anchor="end">mixing parameter (EXP)</text>
<text x="354.8" y="437" text-anchor="middle">E<tspan font-size="18.28" dy="6.6">lab</tspan><tspan dy="-6.6"> = 2 k</tspan><tspan font-size="18.28" dy="-11.4">2</tspan><tspan dy="11.4">/m</tspan><tspan font-size="18.28" dy="6.6">N</tspan><tspan dy="-6.6"> [MeV]</tspan></text>
<text transform="translate(10.6,200) rotate(-90)" text-anchor="middle">phase shift (degree)</text>
<text x="114.6" y="71.4" font-size="36.6">(b)</text>
</g>
</svg>
</body>
</html>
